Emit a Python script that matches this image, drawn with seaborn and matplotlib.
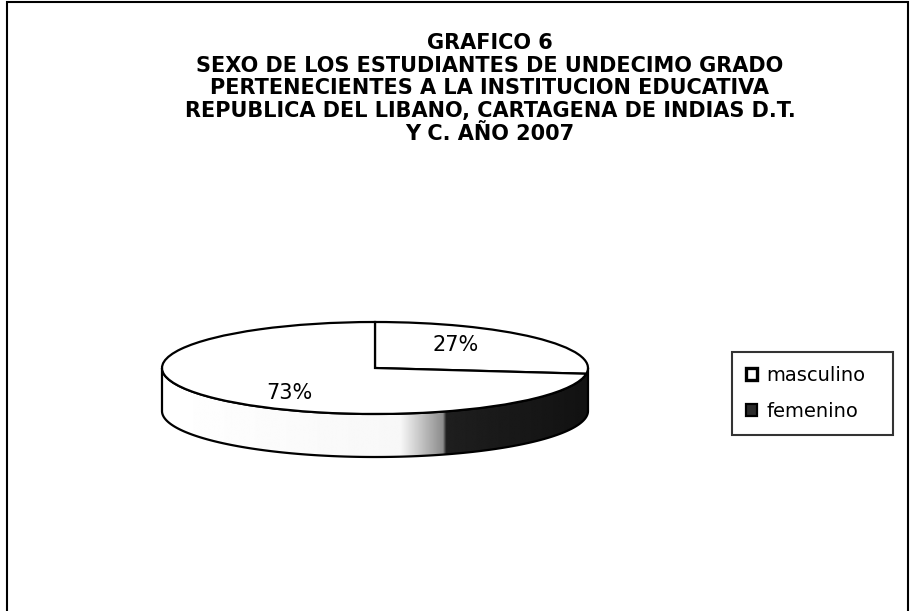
import numpy as np
import matplotlib
matplotlib.use("Agg")
import matplotlib.pyplot as plt
from matplotlib.patches import Polygon, Rectangle
import seaborn as sns

# data
sexo = ["masculino", "femenino"]
porcentaje = [27, 73]
titulo = [
    "GRAFICO 6",
    "SEXO DE LOS ESTUDIANTES DE UNDECIMO GRADO",
    "PERTENECIENTES A LA INSTITUCION EDUCATIVA",
    "REPUBLICA DEL LIBANO, CARTAGENA DE INDIAS D.T.",
    "Y C. AÑO 2007",
]

sns.set_theme(style="white")
plt.rcParams['font.family'] = ['DejaVu Sans']
plt.rcParams['text.color'] = 'black'

fig = plt.figure(figsize=(9.12, 6.11), dpi=100)
ax = fig.add_axes([0.11924, 0.23208, 0.58388, 0.2635])

colors = sns.color_palette(["#ffffff", "#ffffff"])
wedges, texts, autotexts = ax.pie(
    porcentaje,
    startangle=90,
    counterclock=False,
    colors=colors,
    autopct=lambda p: '%d%%' % round(p),
    pctdistance=0.55,
    wedgeprops=dict(edgecolor='black', linewidth=1.6, zorder=3),
    textprops=dict(fontsize=15, color='black'),
)
for t in autotexts:
    t.set_zorder(5)
# nudge labels to where the original sits them on the tilted disc
autotexts[0].set_position((0.38, 0.50))
autotexts[1].set_position((-0.40, -0.54))

# side of the flattened disc (3d look)
thick = 0.935
ang = np.linspace(np.pi, 2 * np.pi, 300)
rim = np.column_stack([np.cos(ang), np.sin(ang)])
base = np.column_stack([np.cos(ang[::-1]), np.sin(ang[::-1]) - thick])
side = Polygon(np.vstack([rim, base]), closed=True, facecolor='none',
               edgecolor='black', linewidth=1.6, zorder=2)
ax.add_patch(side)
xs = np.linspace(-1, 1, 600)
shade = np.interp(xs, [-1, 0.12, 0.32, 0.335, 1], [1.0, 0.97, 0.55, 0.12, 0.07])
im = ax.imshow(shade[None, :], cmap='gray', vmin=0, vmax=1,
               extent=[-1, 1, -1 - thick, 0], aspect='auto', zorder=1,
               interpolation='bilinear')
im.set_clip_path(side)

ax.set_aspect('auto')
ax.set_xlim(-1.25, 1.25)
ax.set_ylim(-2.2, 1.3)
ax.axis('off')

leg = fig.legend(wedges, sexo, loc='upper left', mode='expand',
                 bbox_to_anchor=(732 / 912, 1 - 432 / 611, 161 / 912, 80 / 611),
                 borderaxespad=0, frameon=True, fancybox=False,
                 edgecolor='black', fontsize=14,
                 handlelength=0.6, handleheight=0.6, handletextpad=0.45,
                 labelspacing=0.9, borderpad=0.7)
leg.get_frame().set_linewidth(1.5)
for txt in leg.get_texts():
    txt.set_color('black')
leg.legend_handles[0].set_linewidth(2.4)
leg.legend_handles[1].set_facecolor('#2b2b2b')

fig.text(490 / 912, 1 - 33 / 611, "\n".join(titulo), ha='center', va='top',
         fontsize=15, fontweight='bold', linespacing=1.17, color='black')

fig.add_artist(Rectangle((7 / 912, -0.1), 901 / 912, 1.1 - 2 / 611,
                         transform=fig.transFigure, fill=False,
                         edgecolor='black', linewidth=1.5))

fig.savefig('out.png', dpi=100)
